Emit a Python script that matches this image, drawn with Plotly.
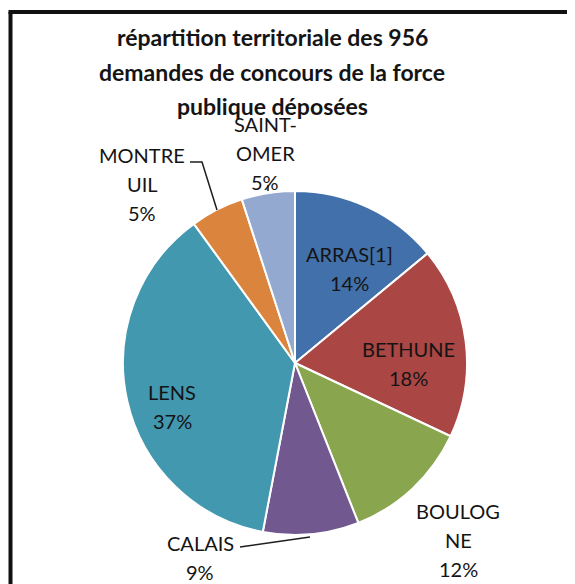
import plotly.graph_objects as go

# ---- data ----
communes = ["ARRAS[1]", "BETHUNE", "BOULOGNE", "CALAIS", "LENS", "MONTREUIL", "SAINT-OMER"]
parts = [14, 18, 12, 9, 37, 5, 5]
label_names = ["ARRAS[1]", "BETHUNE", "BOULOG<br>NE", "CALAIS", "LENS", "MONTRE<br>UIL", "SAINT-<br>OMER"]
title_lines = ["répartition territoriale des 956",
               "demandes de concours de la force",
               "publique déposées"]

# ---- styles / layout ----
colors = ["#4270AA", "#AA4644", "#89A54E", "#71588F", "#4298AF", "#DB843D", "#93A9CF"]
OFF = 8                      # page body margin
W, H = 575 - OFF, 584 - OFF  # figure size so the page fits the window
cx, cy, R = 295, 363, 172    # pie centre / radius in window pixels

def px(x):
    return (x - OFF) / W

def py(y):
    return 1 - (y - OFF) / H

# label anchor points (window pixels) and leader lines
label_pos = [(349, 268), (408, 363), (458, 540), (200, 557), (172, 406), (142, 184), (265, 153)]
line_gap = 29
leaders = [
    [(190, 162), (202, 162), (217, 210)],   # MONTREUIL
    [(240, 547), (310, 537)],               # CALAIS
    [(268, 185), (268, 191)],               # SAINT-OMER
]

fig = go.Figure(go.Pie(
    labels=communes,
    values=parts,
    sort=False,
    direction="clockwise",
    rotation=0,
    marker=dict(colors=colors, line=dict(color="white", width=2)),
    textinfo="none",
    hoverinfo="label+percent",
    domain=dict(x=[px(cx - R), px(cx + R)], y=[py(cy + R), py(cy - R)]),
    showlegend=False,
))

total = sum(parts)
annotations = []
label_font = dict(family="Lato, Carlito, sans-serif", size=20, color="#141414")
for name, v, (x, y) in zip(label_names, parts, label_pos):
    pct = round(v / total * 100)
    lines = name.split("<br>") + [f"{pct}%"]
    n = len(lines)
    for i, ln in enumerate(lines):
        yy = y + (i - (n - 1) / 2) * line_gap
        annotations.append(dict(
            x=px(x), y=py(yy), xref="paper", yref="paper",
            text=ln, showarrow=False, font=label_font,
            xanchor="center", yanchor="middle",
        ))

title_y = [37, 72, 106]
for line, y in zip(title_lines, title_y):
    annotations.append(dict(
        x=px(272), y=py(y), xref="paper", yref="paper",
        text=f"<b>{line}</b>", showarrow=False,
        font=dict(family="Lato, Carlito, sans-serif", size=23, color="#141414"),
        xanchor="center", yanchor="middle",
    ))

shapes = []
for pts in leaders:
    path = "M " + " L ".join(f"{px(x)},{py(y)}" for x, y in pts)
    shapes.append(dict(type="path", xref="paper", yref="paper", path=path,
                       line=dict(color="#1e1e1e", width=1.5)))

# chart-area frame (left and top edges visible)
shapes.append(dict(type="line", xref="paper", yref="paper",
                   x0=px(10.5), y0=py(12), x1=px(10.5), y1=py(600),
                   line=dict(color="#111111", width=4)))
shapes.append(dict(type="line", xref="paper", yref="paper",
                   x0=px(8.5), y0=py(12), x1=px(600), y1=py(12),
                   line=dict(color="#111111", width=4)))

fig.update_layout(
    width=W, height=H,
    margin=dict(l=0, r=0, t=0, b=0),
    paper_bgcolor="white", plot_bgcolor="white",
    annotations=annotations,
    shapes=shapes,
)

fig.write_html("out.html")
